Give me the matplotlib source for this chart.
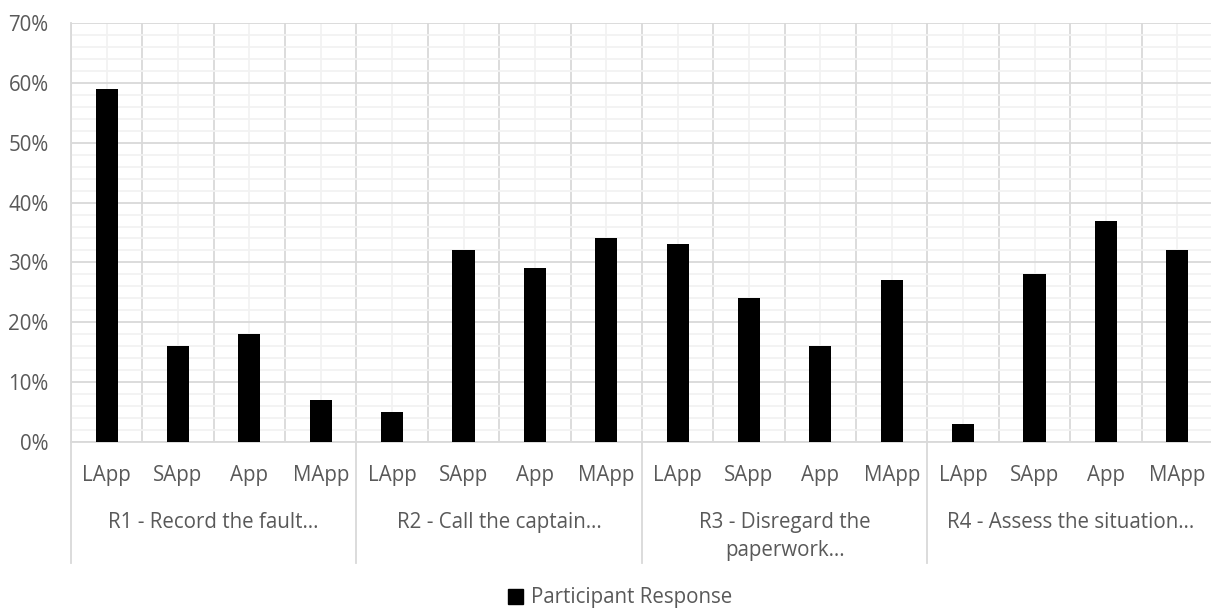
import matplotlib.pyplot as plt
import numpy as np
from matplotlib.patches import Patch
from matplotlib.ticker import MultipleLocator, PercentFormatter

plt.rcParams['font.family'] = ['Open Sans', 'DejaVu Sans']

""" chart data """
groups = ['R1 - Record the fault…', 'R2 - Call the captain…',
          'R3 - Disregard the\npaperwork…', 'R4 - Assess the situation…']
levels = ['LApp', 'SApp', 'App', 'MApp']
r1 = [59, 16, 18, 7]
r2 = [5, 32, 29, 34]
r3 = [33, 24, 16, 27]
r4 = [3, 28, 37, 32]

values = r1 + r2 + r3 + r4
labels = levels * len(groups)
x = np.arange(len(values))

grey = '#595959'
major = '#d9d9d9'
minor = '#f2f2f2'
fs = 14.8

fig = plt.figure(figsize=(12.11, 6.13), dpi=100)
ax = fig.add_axes([0.0586, 0.2795, 0.943, 0.6825])

ax.bar(x, values, width=0.31, color='black', zorder=3)

ax.set_xlim(-0.5, len(values) - 0.5)
ax.set_ylim(0, 70)

# grid like excel
ax.yaxis.set_major_locator(MultipleLocator(10))
ax.yaxis.set_minor_locator(MultipleLocator(2))
ax.yaxis.set_major_formatter(PercentFormatter(decimals=0))
ax.set_xticks(x, labels)
ax.set_xticks(np.arange(-0.5, len(values), 1), minor=True)
ax.grid(which='major', axis='y', color=major, lw=1.3, zorder=1)
ax.grid(which='minor', axis='y', color=minor, lw=1.3, zorder=0)
ax.grid(which='minor', axis='x', color=major, lw=1.3, zorder=1)
ax.grid(which='major', axis='x', color=minor, lw=1.3, zorder=0)

for s in ['top', 'right']:
    ax.spines[s].set_visible(False)
for s in ['left', 'bottom']:
    ax.spines[s].set_color(major)
    ax.spines[s].set_linewidth(1.3)

ax.tick_params(axis='y', which='both', length=0, pad=16, labelsize=fs, labelcolor=grey)
ax.tick_params(axis='x', which='both', length=0, pad=17, labelsize=fs, labelcolor=grey)

# group labels and separators below the axis
trans = ax.get_xaxis_transform()
for i, g in enumerate(groups):
    ax.text(i * 4 + 1.5, -0.168, g, transform=trans, ha='center', va='top',
            fontsize=fs, color=grey, linespacing=1.45)
for b in np.arange(-0.5, len(values), 4):
    ax.plot([b, b], [0, -0.29], transform=trans, color=major, lw=1.3, clip_on=False)

fig.legend(handles=[Patch(color='black', label='Participant Response')],
           loc='center', bbox_to_anchor=(0.512, 0.0245), frameon=False,
           fontsize=fs, labelcolor=grey, handlelength=0.75, handleheight=0.75,
           handletextpad=0.4)

plt.savefig('out.png', dpi=100)
